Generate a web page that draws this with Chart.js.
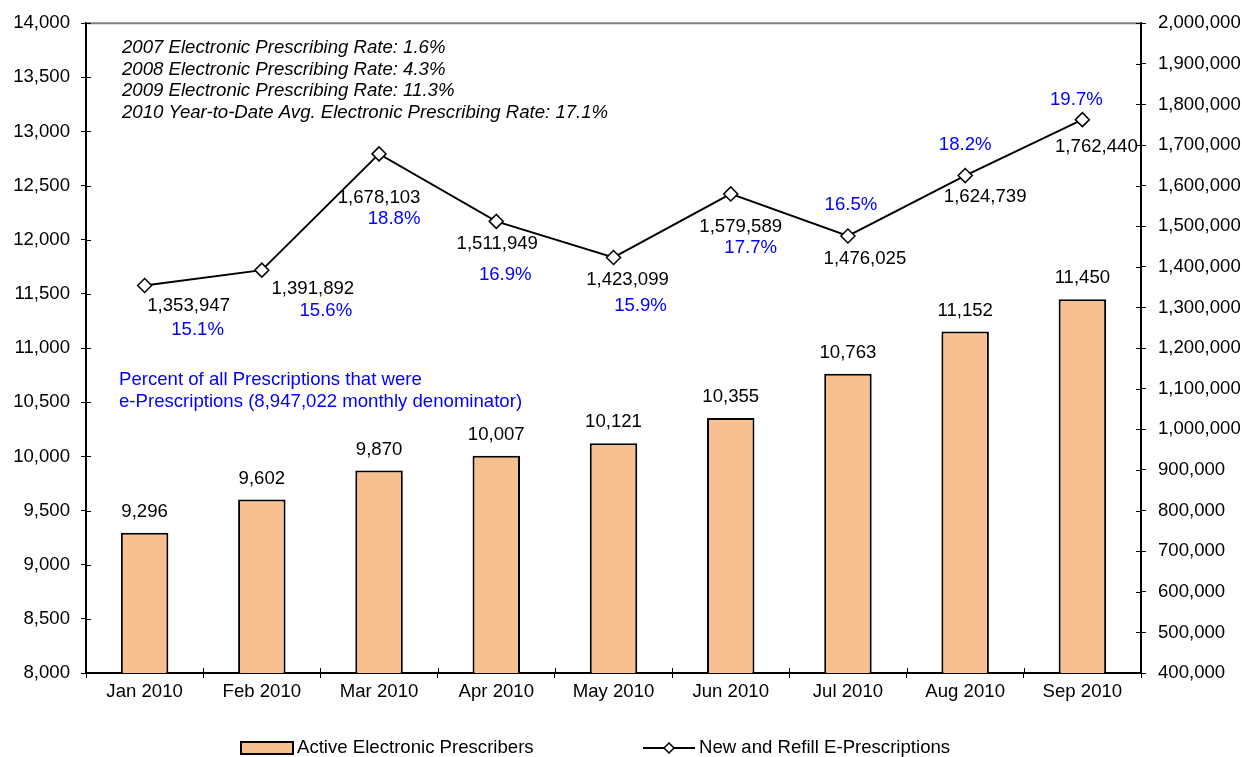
<!DOCTYPE html>
<html>
<head>
<meta charset="utf-8">
<script src="https://cdn.jsdelivr.net/npm/chart.js@4.4.1/dist/chart.umd.min.js"></script>
<style>
  html, body { margin: 0; padding: 0; background: #fff; }
  #wrap { width: 1242px; height: 757px; }
</style>
</head>
<body>
<div id="wrap"><canvas id="eRxChart" width="1242" height="757"></canvas></div>
<script>
const months = ['Jan 2010', 'Feb 2010', 'Mar 2010', 'Apr 2010', 'May 2010', 'Jun 2010', 'Jul 2010', 'Aug 2010', 'Sep 2010'];
const activePrescribers = [9296, 9602, 9870, 10007, 10121, 10355, 10763, 11152, 11450];
const ePrescriptions = [1353947, 1391892, 1678103, 1511949, 1423099, 1579589, 1476025, 1624739, 1762440];
const ePrescribingPct = [15.1, 15.6, 18.8, 16.9, 15.9, 17.7, 16.5, 18.2, 19.7];
const yearRates = [
    '2007 Electronic Prescribing Rate: 1.6%',
    '2008 Electronic Prescribing Rate: 4.3%',
    '2009 Electronic Prescribing Rate: 11.3%',
    '2010 Year-to-Date Avg. Electronic Prescribing Rate: 17.1%'
];
const pctNote = ['Percent of all Prescriptions that were', 'e-Prescriptions (8,947,022 monthly denominator)'];

// label placement around each line point (pixels)
const valueOffsets = [[44, 20], [51, 19], [0, 44], [1, 22], [14, 22], [10, 33], [17, 23], [20, 21], [14, 27]];
const pctOffsets = [[53, 44], [64, 41], [15, 65], [9, 53], [27, 48], [20, 54], [3, -31], [0, -31], [-6, -20]];

const FONT = '"Liberation Sans", Arial, sans-serif';
const FSIZE = 18.6;
const BAR_COLOR = '#F9C08F';
const BLUE = '#0000FF';

function fmt(v) {
    return Number(v).toLocaleString('en-US');
}

const annotations = {
    id: 'annotations',
    afterDraw(chart) {
        const ctx = chart.ctx;
        const area = chart.chartArea;
        const yL = chart.scales.y;
        const yR = chart.scales.y1;
        ctx.save();

        // top frame line
        ctx.strokeStyle = '#808080';
        ctx.lineWidth = 2;
        ctx.beginPath();
        ctx.moveTo(area.left, area.top);
        ctx.lineTo(area.right, area.top);
        ctx.stroke();

        // inner half of tick marks
        ctx.strokeStyle = '#000';
        ctx.lineWidth = 1;
        ctx.beginPath();
        yL.ticks.forEach((t, i) => {
            const py = Math.round(yL.getPixelForTick(i)) + 0.5;
            ctx.moveTo(area.left, py);
            ctx.lineTo(area.left + 5, py);
        });
        yR.ticks.forEach((t, i) => {
            const py = Math.round(yR.getPixelForTick(i)) + 0.5;
            ctx.moveTo(area.right - 5, py);
            ctx.lineTo(area.right, py);
        });
        for (let i = 0; i <= months.length; i++) {
            const px = Math.round(area.left + (area.right - area.left) * i / months.length) + 0.5;
            ctx.moveTo(px, area.bottom - 5);
            ctx.lineTo(px, area.bottom);
        }
        ctx.stroke();

        // bar value labels
        ctx.font = FSIZE + 'px ' + FONT;
        ctx.fillStyle = '#000';
        ctx.textAlign = 'center';
        ctx.textBaseline = 'middle';
        const barMeta = chart.getDatasetMeta(1);
        barMeta.data.forEach((bar, i) => {
            ctx.fillText(fmt(activePrescribers[i]), bar.x, bar.y - 21);
        });

        // line value + percent labels
        const lineMeta = chart.getDatasetMeta(0);
        lineMeta.data.forEach((pt, i) => {
            ctx.fillStyle = '#000';
            ctx.fillText(fmt(ePrescriptions[i]), pt.x + valueOffsets[i][0], pt.y + valueOffsets[i][1]);
            ctx.fillStyle = BLUE;
            ctx.fillText(ePrescribingPct[i].toFixed(1) + '%', pt.x + pctOffsets[i][0], pt.y + pctOffsets[i][1]);
        });

        // italic year notes
        ctx.textAlign = 'left';
        ctx.fillStyle = '#000';
        ctx.font = 'italic ' + FSIZE + 'px ' + FONT;
        yearRates.forEach((s, i) => {
            ctx.fillText(s, area.left + 36, area.top + 25 + i * 21.5);
        });

        // blue note
        ctx.fillStyle = BLUE;
        ctx.font = FSIZE + 'px ' + FONT;
        pctNote.forEach((s, i) => {
            ctx.fillText(s, area.left + 33, 380 + i * 21.5);
        });

        // legend
        const ly = 748;
        ctx.fillStyle = BAR_COLOR;
        ctx.strokeStyle = '#000';
        ctx.lineWidth = 2;
        ctx.fillRect(241, 742, 52, 12);
        ctx.strokeRect(241, 742, 52, 12);
        ctx.fillStyle = '#000';
        ctx.fillText(chart.data.datasets[1].label, 297, ly);

        ctx.beginPath();
        ctx.moveTo(643, ly);
        ctx.lineTo(695, ly);
        ctx.stroke();
        ctx.beginPath();
        ctx.moveTo(669, ly - 5);
        ctx.lineTo(674, ly);
        ctx.lineTo(669, ly + 5);
        ctx.lineTo(664, ly);
        ctx.closePath();
        ctx.fillStyle = '#fff';
        ctx.fill();
        ctx.lineWidth = 1.5;
        ctx.stroke();
        ctx.fillStyle = '#000';
        ctx.fillText(chart.data.datasets[0].label, 699, ly);

        ctx.restore();
    }
};

const ctx = document.getElementById('eRxChart').getContext('2d');
window.eRxChart = new Chart(ctx, {
    type: 'bar',
    data: {
        labels: months,
        datasets: [{
            type: 'line',
            label: 'New and Refill E-Prescriptions',
            data: ePrescriptions,
            yAxisID: 'y1',
            borderColor: '#000',
            borderWidth: 2,
            pointStyle: 'rectRot',
            pointRadius: 7,
            pointBackgroundColor: '#fff',
            pointBorderColor: '#000',
            pointBorderWidth: 1.5,
            tension: 0,
            order: 0
        }, {
            label: 'Active Electronic Prescribers',
            data: activePrescribers,
            yAxisID: 'y',
            backgroundColor: BAR_COLOR,
            borderColor: '#000',
            borderWidth: 2,
            borderSkipped: false,
            barPercentage: 0.81,
            categoryPercentage: 0.5,
            order: 1
        }]
    },
    options: {
        responsive: false,
        devicePixelRatio: 1,
        animation: false,
        layout: { padding: { top: 22, left: 0, right: 0, bottom: 0 } },
        plugins: {
            legend: { display: false },
            tooltip: { enabled: false }
        },
        scales: {
            x: {
                grid: { drawOnChartArea: false, tickLength: 5, color: '#000', offset: true },
                border: { color: '#000', width: 2 },
                ticks: { color: '#000', font: { family: FONT, size: FSIZE }, padding: 3 },
                afterFit(scale) { scale.height = 84; }
            },
            y: {
                position: 'left',
                min: 8000,
                max: 14000,
                grid: { drawOnChartArea: false, tickLength: 5, color: '#000' },
                border: { color: '#000', width: 2 },
                ticks: { stepSize: 500, color: '#000', font: { family: FONT, size: FSIZE }, padding: 11, callback: v => fmt(v) },
                afterFit(scale) { scale.width = 86; }
            },
            y1: {
                position: 'right',
                min: 400000,
                max: 2000000,
                grid: { drawOnChartArea: false, tickLength: 5, color: '#000' },
                border: { color: '#000', width: 2 },
                ticks: { stepSize: 100000, color: '#000', font: { family: FONT, size: FSIZE }, padding: 12, callback: v => fmt(v) },
                afterFit(scale) { scale.width = 101; }
            }
        }
    },
    plugins: [annotations]
});
</script>
</body>
</html>
